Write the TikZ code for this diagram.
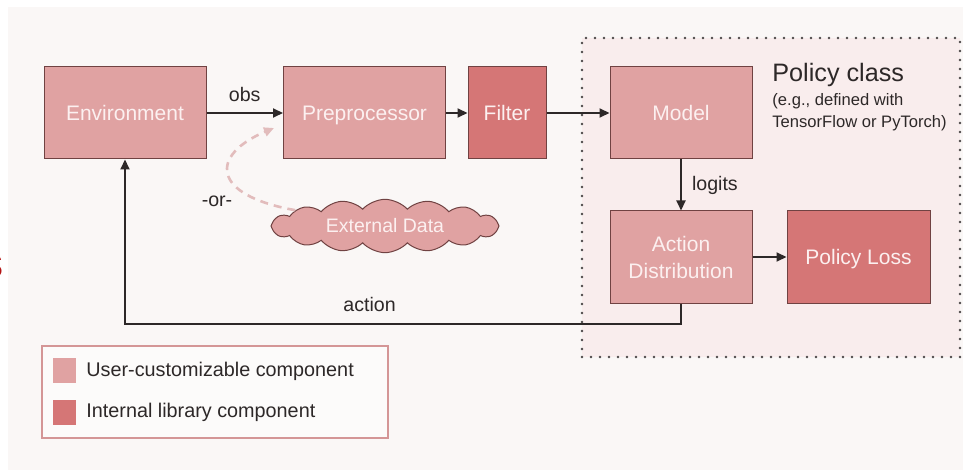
\documentclass[tikz,border=0pt]{standalone}
\usepackage{fontspec}
\setmainfont{Liberation Sans}
\usepackage{xcolor}
\usepackage{tikz}
\usetikzlibrary{shapes.symbols, arrows.meta, positioning, calc}
\definecolor{userpink}{RGB}{224,162,162}
\definecolor{libred}{RGB}{213,118,118}
\definecolor{edgebrown}{RGB}{112,66,66}
\definecolor{boxtext}{RGB}{252,240,240}
\definecolor{pagebg}{RGB}{250,247,246}
\definecolor{policybg}{RGB}{249,237,237}
\definecolor{dashpink}{RGB}{226,188,188}
\definecolor{legendedge}{RGB}{212,150,150}
\definecolor{inkgray}{RGB}{45,40,40}
\definecolor{deepred}{RGB}{180,20,20}

\tikzset{
  userbox/.style={rectangle, draw=edgebrown, line width=0.5pt, fill=userpink,
    text=boxtext, minimum width=81pt, minimum height=46pt, inner sep=0pt,
    align=center, text depth=0pt, font=\fontsize{10.5}{13.5}\selectfont},
  libbox/.style={userbox, fill=libred},
  flow/.style={draw=inkgray, line width=1pt, -{Triangle[length=5pt,width=4.5pt]}},
  flowlabel/.style={font=\fontsize{9.8}{12}\selectfont, text=inkgray, inner sep=0pt},
  swatch/.style={rectangle, minimum width=11.5pt, minimum height=12.5pt, inner sep=0pt},
}

\begin{document}
\begin{tikzpicture}[x=0.5pt, y=-0.5pt]
  \useasboundingbox (0,0) rectangle (963,470);
  \fill[pagebg] (8,7) rectangle (963,470);

  % policy class region
  \node[rectangle, fill=policybg, draw=inkgray!85, line width=1.3pt, line cap=round,
        dash pattern=on 0pt off 4.5pt, minimum width=189pt, minimum height=159.5pt,
        inner sep=0pt] (policy) at (771,197.5) {};
  \node[anchor=base west, inner sep=0pt, text=inkgray,
        font=\fontsize{12.6}{15}\selectfont] (pcls) at (772,82) {Policy class};
  \node[anchor=base west, inner sep=0pt, text=inkgray,
        font=\fontsize{8.3}{10}\selectfont] (pnote) at (772,106) {(e.g., defined with};
  \node[anchor=base west, inner sep=0pt, text=inkgray,
        font=\fontsize{8.3}{10}\selectfont] (pnotetwo) at (772,128) {TensorFlow or PyTorch)};

  % components
  \node[userbox] (env) at (125,113) {Environment};
  \node[userbox] (pre) at (364.5,113) {Preprocessor};
  \node[libbox, minimum width=39pt] (filt) at (507,113) {Filter};
  \node[userbox, minimum width=71pt] (model) at (681,113) {Model};
  \node[userbox, minimum width=71pt] (dist) at (681,257) {Action\\Distribution};
  \node[libbox, minimum width=71.5pt] (loss) at (858.5,257) {Policy Loss};
  \node[cloud, cloud puffs=16, cloud puff arc=95, aspect=4.2, draw=edgebrown,
        line width=0.5pt, fill=userpink, text=boxtext, minimum width=114pt,
        minimum height=26pt, inner sep=0pt,
        font=\fontsize{9.75}{12}\selectfont] (ext) at (385,226) {External Data};

  % connectors
  \draw[flow] (env) -- node[flowlabel, above=5pt] {obs} (pre);
  \draw[flow] (pre) -- (filt);
  \draw[flow] (filt) -- (model);
  \draw[flow] (model) -- node[flowlabel, right=5pt] {logits} (dist);
  \draw[flow] (dist) -- (loss);
  \draw[flow] (dist.south) -- ++(0,20) -| node[flowlabel, pos=0.28, above=5.5pt] {action} (env.south);

  \coordinate (orin) at ($(pre.west)+(-9,15)$);
  \draw[dashpink, line width=1.3pt, dash pattern=on 4pt off 3pt,
        -{Triangle[length=5pt,width=4.5pt]}]
    (ext.170) .. controls (210,195) and (210,155) .. (orin);
  \node[flowlabel] (orlbl) at (217,201) {-or-};

  % legend
  \node[rectangle, draw=legendedge, line width=0.6pt, fill=white!50!pagebg,
        minimum width=173pt, minimum height=46pt, inner sep=0pt] (legend) at (215,392) {};
  \node[swatch, fill=userpink] (swuser) at (64.5,370.5) {};
  \node[swatch, fill=libred] (swlib) at (64.5,412) {};
  \node[flowlabel, font=\fontsize{9.9}{12}\selectfont, anchor=west] (lguser) at (86,371) {User-customizable component};
  \node[flowlabel, font=\fontsize{9.9}{12}\selectfont, anchor=west] (lglib) at (86,412) {Internal library component};

  % clipped letter at the left edge
  \node[anchor=east, inner sep=0pt, text=deepred,
        font=\fontsize{21}{24}\selectfont] (cutoff) at (4,266) {s};
\end{tikzpicture}
\end{document}
